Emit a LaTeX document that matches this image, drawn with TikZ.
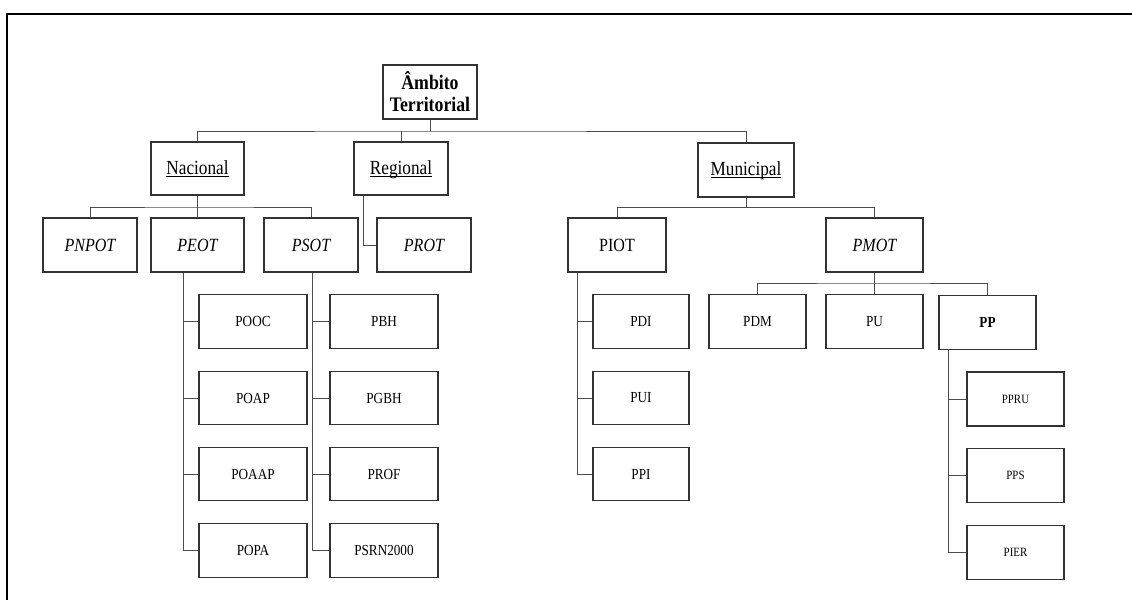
\documentclass[tikz,border=0pt]{standalone}
\usepackage{fontspec}
\setmainfont[FakeStretch=0.86]{Liberation Serif}
\newcommand\fixul[1]{\underline{\raisebox{0pt}[\height][0pt]{#1}}}
\begin{document}
\begin{tikzpicture}[x=0.75pt,y=-0.75pt,
  box/.style={draw=black!80,line width=0.8pt,inner sep=0pt,align=center},
  lvA/.style={box,font=\fontsize{15.5}{16.5}\selectfont\bfseries},
  lvB/.style={box,font=\fontsize{15}{17}\selectfont},
  lvC/.style={box,font=\fontsize{14}{16}\selectfont},
  lvD/.style={box,font=\fontsize{11.5}{13}\selectfont},
  lvE/.style={box,font=\fontsize{9.5}{11}\selectfont},
  conn/.style={draw=black!70,line width=0.75pt},
  frame/.style={draw=black,line width=1.5pt}]
\useasboundingbox (0,0) rectangle (1132,600);
\fill[white] (0,0) rectangle (1132,600);
% frame (top and left edges visible)
\coordinate (fTL) at (7,13.5);
\coordinate (fTR) at (1132,13.5);
\coordinate (fBL) at (7,600);
\draw[frame] (fTR) -- (fTL) -- (fBL);

% level 0
\node[lvA,minimum width=70.5pt,minimum height=40.5pt] (amb) at (430,92) {Âmbito\\Territorial};
% level 1
\node[lvB,minimum width=69.75pt,minimum height=39.75pt] (nac) at (197.5,168.5) {\fixul{Nacional}};
\node[lvB,minimum width=70.5pt,minimum height=39.75pt] (reg) at (401,168.5) {\fixul{Regional}};
\node[lvB,minimum width=72pt,minimum height=40.5pt] (mun) at (746,170) {\fixul{Municipal}};
% level 2
\node[lvC,minimum width=70.5pt,minimum height=40.5pt] (pnpot) at (90,245) {\itshape PNPOT};
\node[lvC,minimum width=69.75pt,minimum height=40.5pt] (peot) at (197.5,245) {\itshape PEOT};
\node[lvC,minimum width=70.5pt,minimum height=40.5pt] (psot) at (311,245) {\itshape PSOT};
\node[lvC,minimum width=70.5pt,minimum height=40.5pt] (prot) at (424,245) {\itshape PROT};
\node[lvC,minimum width=73.5pt,minimum height=40.5pt] (piot) at (617,245) {PIOT};
\node[lvC,minimum width=72.75pt,minimum height=40.5pt] (pmot) at (874.5,245) {\itshape PMOT};
% PEOT children
\node[lvD,minimum width=81pt,minimum height=40.5pt] (pooc) at (253,321.5) {POOC};
\node[lvD,minimum width=81pt,minimum height=40pt] (poap) at (253,398) {POAP};
\node[lvD,minimum width=81pt,minimum height=40pt] (poaap) at (253,474) {POAAP};
\node[lvD,minimum width=81pt,minimum height=40.5pt] (popa) at (253,550.7) {POPA};
% PSOT children
\node[lvD,minimum width=81pt,minimum height=40.5pt] (pbh) at (384,321.5) {PBH};
\node[lvD,minimum width=81pt,minimum height=40pt] (pgbh) at (384,398) {PGBH};
\node[lvD,minimum width=81pt,minimum height=40pt] (prof) at (384,474) {PROF};
\node[lvD,minimum width=81pt,minimum height=40.5pt] (psrn) at (384,550.7) {PSRN2000};
% PIOT children
\node[lvD,minimum width=72pt,minimum height=40.5pt] (pdi) at (641,321.5) {PDI};
\node[lvD,minimum width=72pt,minimum height=40pt] (pui) at (641,398) {PUI};
\node[lvD,minimum width=72pt,minimum height=40pt] (ppi) at (641,474) {PPI};
% PMOT children
\node[lvD,minimum width=72.75pt,minimum height=40.5pt] (pdm) at (757.5,321.5) {PDM};
\node[lvD,minimum width=72.75pt,minimum height=40.5pt] (pu) at (874.5,321.5) {PU};
\node[lvD,minimum width=72.75pt,minimum height=40.5pt] (pp) at (987.5,322.5) {\bfseries PP};
% PP children
\node[lvE,minimum width=72.75pt,minimum height=40.5pt] (ppru) at (1015.5,399) {PPRU};
\node[lvE,minimum width=72.75pt,minimum height=40.5pt] (pps) at (1015.5,475.5) {PPS};
\node[lvE,minimum width=72.75pt,minimum height=40.5pt] (pier) at (1015.5,552.5) {PIER};

% connectors level 0 -> 1
\coordinate (b1) at (430,131);
\draw[conn] (amb.south) -- (b1);
\draw[conn] (nac.north) |- (b1) -| (mun.north);
\draw[conn] (reg.north) -- (reg.north |- b1);
% Nacional -> children
\coordinate (b2) at (197.5,207);
\draw[conn] (nac.south) -- (b2);
\draw[conn] (pnpot.north) |- (b2) -| (psot.north);
\draw[conn] (peot.north) -- (b2);
% Regional -> PROT
\draw[conn] ([xshift=7.5pt]reg.south west) |- (prot.west);
% Municipal -> children
\coordinate (b3) at (746,207.5);
\draw[conn] (mun.south) -- (b3);
\draw[conn] (piot.north) |- (b3) -| (pmot.north);
% PMOT -> children
\coordinate (b4) at (874.5,283);
\draw[conn] (pmot.south) -- (pu.north);
\draw[conn] (pdm.north) |- (b4) -| (pp.north);
% PEOT -> children
\draw[conn] ([xshift=24.75pt]peot.south west) |- (popa.west);
\foreach \n in {pooc,poap,poaap} \draw[conn] (\n.west) -- ++(-15.3,0);
% PSOT -> children
\draw[conn] ([xshift=37pt]psot.south west) |- (psrn.west);
\foreach \n in {pbh,pgbh,prof} \draw[conn] (\n.west) -- ++(-16.7,0);
% PIOT -> children
\draw[conn] ([xshift=7.5pt]piot.south west) |- (ppi.west);
\foreach \n in {pdi,pui} \draw[conn] (\n.west) -- ++(-15,0);
% PP -> children
\draw[conn] ([xshift=7.5pt]pp.south west) |- (pier.west);
\foreach \n in {ppru,pps} \draw[conn] (\n.west) -- ++(-18,0);
\end{tikzpicture}
\end{document}
